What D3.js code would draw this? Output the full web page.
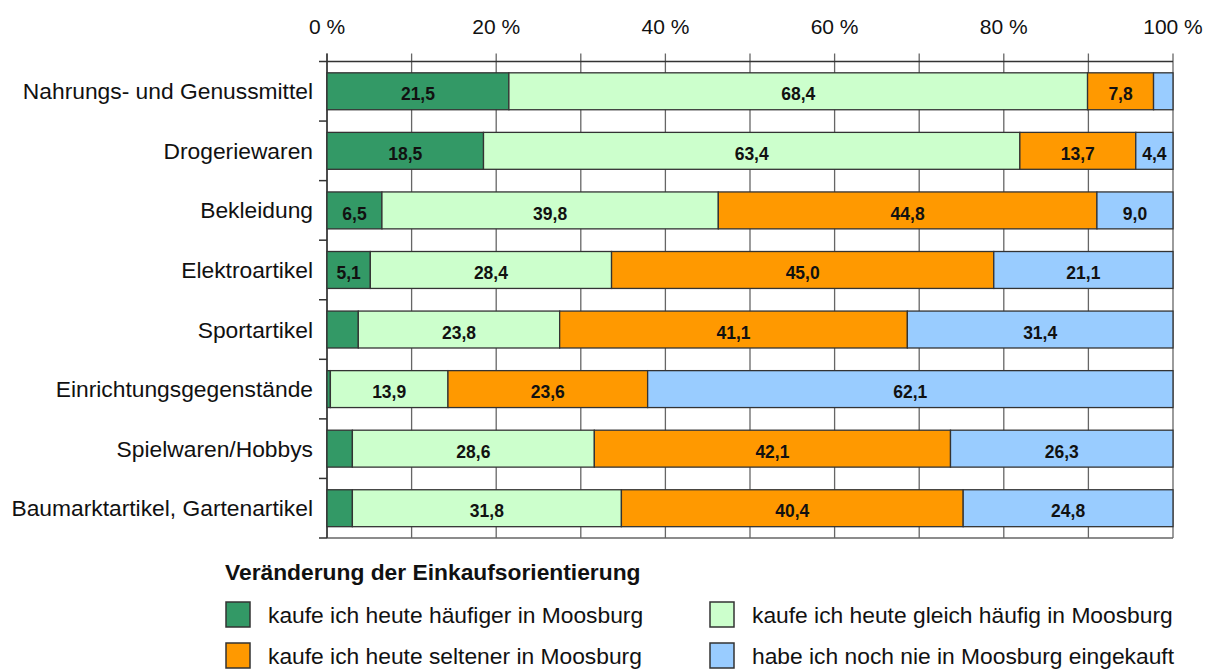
<!DOCTYPE html>
<html>
<head>
<meta charset="utf-8">
<script src="https://cdn.jsdelivr.net/npm/d3@7"></script>
<style>
  body { margin: 0; background: white; }
  svg text { font-family: "Liberation Sans", Arial, sans-serif; }
</style>
</head>
<body>
<div id="viz"></div>
<script>
// data (percent)
var categories = ['Nahrungs- und Genussmittel', 'Drogeriewaren', 'Bekleidung', 'Elektroartikel',
                  'Sportartikel', 'Einrichtungsgegenstände', 'Spielwaren/Hobbys', 'Baumarktartikel, Gartenartikel'];
var haeufiger = [21.5, 18.5, 6.5, 5.1, 3.7, 0.4, 3.0, 3.0];
var gleich    = [68.4, 63.4, 39.8, 28.4, 23.8, 13.9, 28.6, 31.8];
var seltener  = [7.8, 13.7, 44.8, 45.0, 41.1, 23.6, 42.1, 40.4];
var nie       = [2.3, 4.4, 9.0, 21.1, 31.4, 62.1, 26.3, 24.8];
var seriesNames = ['kaufe ich heute häufiger in Moosburg', 'kaufe ich heute gleich häufig in Moosburg',
                   'kaufe ich heute seltener in Moosburg', 'habe ich noch nie in Moosburg eingekauft'];
var seriesColors = ['#339966', '#CCFFCC', '#FF9900', '#99CCFF'];
var tickValues = [0, 20, 40, 60, 80, 100];

var W = 1211, H = 671;
var margin = {top: 61.5, left: 327, right: 38, bottom: 133};
var width = W - margin.left - margin.right,
    height = H - margin.top - margin.bottom;

var svg = d3.select('#viz').append('svg')
    .attr('width', W)
    .attr('height', H);
var g = svg.append('g')
    .attr('transform', 'translate(' + margin.left + ',' + margin.top + ')');

var keys = ['a', 'b', 'c', 'd'];
var rows = categories.map(function(c, i) {
  return {cat: c, a: haeufiger[i], b: gleich[i], c: seltener[i], d: nie[i]};
});

var stack = d3.stack().keys(keys).offset(d3.stackOffsetExpand);
var stacked = stack(rows);

var x = d3.scaleLinear().domain([0, 1]).range([0, width]);
var y = d3.scaleBand().domain(categories).range([0, height]).paddingInner(0.38).paddingOuter(0.19);

// vertical gridlines every 10 %
var grid = d3.range(0, 1.01, 0.1);
g.selectAll('.grid').data(grid).enter().append('line')
    .attr('x1', function(d) { return x(d); })
    .attr('x2', function(d) { return x(d); })
    .attr('y1', -8)
    .attr('y2', height)
    .attr('stroke', '#666')
    .attr('stroke-width', 1.3);

// bottom frame line
g.append('line')
    .attr('x1', 0).attr('x2', width)
    .attr('y1', height).attr('y2', height)
    .attr('stroke', '#666').attr('stroke-width', 1.3);

// top axis line
g.append('line')
    .attr('x1', -8).attr('x2', width)
    .attr('y1', 0).attr('y2', 0)
    .attr('stroke', '#333').attr('stroke-width', 1.5);

// left axis with ticks on category boundaries
g.append('line')
    .attr('x1', 0).attr('x2', 0)
    .attr('y1', -8).attr('y2', height)
    .attr('stroke', '#333').attr('stroke-width', 1.5);
var step = height / categories.length;
g.selectAll('.ytick').data(d3.range(1, categories.length + 1)).enter().append('line')
    .attr('x1', -8).attr('x2', 0)
    .attr('y1', function(d) { return d * step; })
    .attr('y2', function(d) { return d * step; })
    .attr('stroke', '#333').attr('stroke-width', 1.5);

// tick labels on top
g.selectAll('.xlab').data(tickValues).enter().append('text')
    .attr('x', function(d) { return x(d / 100); })
    .attr('y', -28)
    .attr('text-anchor', 'middle')
    .style('font-size', '21px')
    .attr('fill', '#111')
    .text(function(d) { return d + ' %'; });

// category labels
g.selectAll('.ylab').data(categories).enter().append('text')
    .attr('x', -14)
    .attr('y', function(d) { return y(d) + y.bandwidth() / 2; })
    .attr('dy', '0.35em')
    .attr('text-anchor', 'end')
    .style('font-size', '22.8px')
    .attr('fill', '#111')
    .text(function(d) { return d; });

// bars
var layer = g.selectAll('.layer').data(stacked).enter().append('g')
    .attr('fill', function(d, i) { return seriesColors[i]; });

layer.selectAll('rect').data(function(d) { return d; }).enter().append('rect')
    .attr('x', function(d) { return x(d[0]); })
    .attr('y', function(d) { return y(d.data.cat); })
    .attr('width', function(d) { return x(d[1]) - x(d[0]); })
    .attr('height', y.bandwidth())
    .attr('stroke', '#333')
    .attr('stroke-width', 1.3);

// value labels
layer.selectAll('text').data(function(d) {
      var key = d.key;
      return d.map(function(p) { return {p: p, v: p.data[key]}; });
    }).enter().append('text')
    .filter(function(d) { return d.v >= 4; })
    .attr('x', function(d) { return (x(d.p[0]) + x(d.p[1])) / 2; })
    .attr('y', function(d) { return y(d.p.data.cat) + y.bandwidth() / 2 + 3; })
    .attr('dy', '0.35em')
    .attr('text-anchor', 'middle')
    .attr('fill', '#111')
    .style('font-size', '17.5px')
    .style('font-weight', 'bold')
    .text(function(d) { return d3.format('.1f')(d.v).replace('.', ','); });

// legend
var legend = svg.append('g');
legend.append('text')
    .attr('x', 225)
    .attr('y', 580)
    .style('font-size', '22.8px')
    .style('font-weight', 'bold')
    .attr('fill', '#111')
    .text('Veränderung der Einkaufsorientierung');

var legX = [226, 710], legY = [602, 643];
seriesNames.forEach(function(name, i) {
  var lx = legX[i % 2], ly = legY[Math.floor(i / 2)];
  legend.append('rect')
      .attr('x', lx).attr('y', ly)
      .attr('width', 24).attr('height', 25)
      .attr('fill', seriesColors[i])
      .attr('stroke', '#333').attr('stroke-width', 1.5);
  legend.append('text')
      .attr('x', lx + 42)
      .attr('y', ly + 13)
      .attr('dy', '0.35em')
      .style('font-size', '22.8px')
      .attr('fill', '#111')
      .text(name);
});
</script>
</body>
</html>
